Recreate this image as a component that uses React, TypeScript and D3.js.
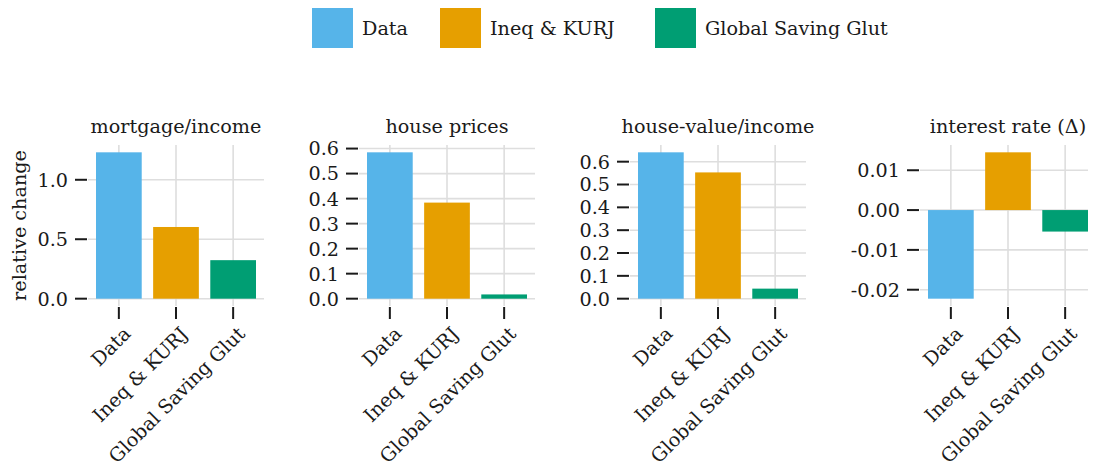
import React from "react";
import * as d3 from "d3";

// Scenario names and colours
const scenarios = ["Data", "Ineq & KURJ", "Global Saving Glut"];
const scenarioColors = ["#56B4E9", "#E69F00", "#009E73"];

// Panel titles
const panelTitles = ["mortgage/income", "house prices", "house-value/income", "interest rate (\u0394)"];

// Relative change per panel, one value per scenario
const mortgageIncome = [1.231, 0.603, 0.324];
const housePrices = [0.585, 0.384, 0.017];
const houseValueIncome = [0.641, 0.553, 0.044];
const interestRate = [-0.02225, 0.0145, -0.0054];

// Y tick values and labels per panel
const ticksMortgage = [0, 0.5, 1.0];
const labelsMortgage = ["0.0", "0.5", "1.0"];
const ticksPrices = [0, 0.1, 0.2, 0.3, 0.4, 0.5, 0.6];
const labelsPrices = ["0.0", "0.1", "0.2", "0.3", "0.4", "0.5", "0.6"];
const ticksValue = [0, 0.1, 0.2, 0.3, 0.4, 0.5, 0.6];
const labelsValue = ["0.0", "0.1", "0.2", "0.3", "0.4", "0.5", "0.6"];
const ticksRate = [-0.02, -0.01, 0, 0.01];
const labelsRate = ["-0.02", "-0.01", "0.00", "0.01"];

const panelValues = [mortgageIncome, housePrices, houseValueIncome, interestRate];
const panelTicks = [ticksMortgage, ticksPrices, ticksValue, ticksRate];
const panelTickLabels = [labelsMortgage, labelsPrices, labelsValue, labelsRate];

// Layout
const W = 1096;
const H = 473;
const plotTop = 145;
const plotBottom = 306;
const plotWidth = 176;
const plotLefts = [88, 359, 630, 920];
const legendXs = [312, 440, 655];
const FONT = "'DejaVu Serif', 'Liberation Serif', serif";
const FS = 19.2;
const TEXT = "#1a1a1a";
const GRID = "#dedede";

function Panel({ idx }: { idx: number }) {
  const values = panelValues[idx];
  const left = plotLefts[idx];
  const lo = Math.min(0, d3.min(values) as number);
  const hi = Math.max(0, d3.max(values) as number);
  const pad = (hi - lo) * 0.05;
  const y = d3.scaleLinear().domain([lo - pad, hi + pad]).range([plotBottom, plotTop]);
  const x = d3.scaleLinear().domain([-0.54, 2.54]).range([left, left + plotWidth]);
  const barW = x(0.4) - x(-0.4);
  const ticks = panelTicks[idx];
  const tickLabels = panelTickLabels[idx];

  return (
    <g>
      {/* grid */}
      {ticks.map((t, i) => (
        <line key={"h" + i} x1={left} x2={left + plotWidth} y1={y(t)} y2={y(t)} stroke={GRID} strokeWidth={1.6} />
      ))}
      {values.map((_, i) => (
        <line key={"v" + i} x1={x(i)} x2={x(i)} y1={plotTop} y2={plotBottom} stroke={GRID} strokeWidth={1.6} />
      ))}
      {/* bars */}
      {values.map((v, i) => (
        <rect
          key={"b" + i}
          x={x(i) - barW / 2}
          width={barW}
          y={Math.min(y(v), y(0))}
          height={Math.abs(y(v) - y(0))}
          fill={scenarioColors[i]}
        />
      ))}
      {/* y ticks */}
      {ticks.map((t, i) => (
        <g key={"yt" + i}>
          <line x1={left - 13} x2={left - 1} y1={y(t)} y2={y(t)} stroke={TEXT} strokeWidth={2} />
          <text x={left - 20} y={y(t)} dy="0.36em" textAnchor="end" fontSize={FS} fill={TEXT} fontFamily={FONT}>
            {tickLabels[i]}
          </text>
        </g>
      ))}
      {/* x ticks and rotated labels */}
      {scenarios.map((s, i) => (
        <g key={"xt" + i}>
          <line x1={x(i)} x2={x(i)} y1={plotBottom + 1} y2={plotBottom + 13} stroke={TEXT} strokeWidth={2} />
          <text
            transform={`translate(${x(i) + 13},${plotBottom + 29}) rotate(-45)`}
            textAnchor="end"
            fontSize={FS}
            fill={TEXT}
            fontFamily={FONT}
          >
            {s}
          </text>
        </g>
      ))}
      {/* title */}
      <text x={left + plotWidth / 2} y={133} textAnchor="middle" fontSize={FS} fill={TEXT} fontFamily={FONT}>
        {panelTitles[idx]}
      </text>
    </g>
  );
}

export default function App() {
  return (
    <svg width={W} height={H} style={{ display: "block", margin: -8 }} viewBox={`0 0 ${W} ${H}`}>
      <rect width={W} height={H} fill="#ffffff" />
      {/* legend */}
      {scenarios.map((s, i) => (
        <g key={"lg" + i}>
          <rect x={legendXs[i]} y={7} width={41} height={41} fill={scenarioColors[i]} />
          <text x={legendXs[i] + 50} y={35} fontSize={FS} fill={TEXT} fontFamily={FONT}>
            {s}
          </text>
        </g>
      ))}
      {panelValues.map((_, i) => (
        <Panel key={i} idx={i} />
      ))}
      <text
        transform={`translate(26,${(plotTop + plotBottom) / 2}) rotate(-90)`}
        textAnchor="middle"
        fontSize={FS}
        fill={TEXT}
        fontFamily={FONT}
      >
        relative change
      </text>
    </svg>
  );
}
